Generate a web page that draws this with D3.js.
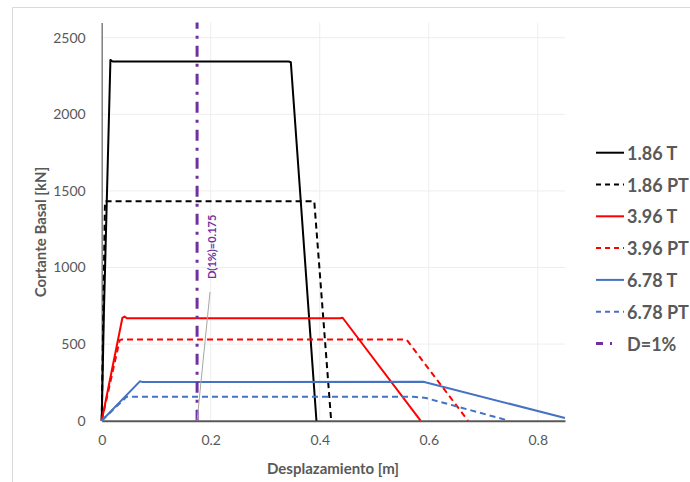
<!DOCTYPE html>
<html>
<head>
<meta charset="utf-8">
<script src="https://cdn.jsdelivr.net/npm/d3@7"></script>
<style>
  html, body { margin: 0; padding: 0; background: #fff; }
  svg { display: block; }
  text { font-family: Lato, "Open Sans", sans-serif; }
</style>
</head>
<body>
<svg id="chart" width="690" height="482"></svg>
<script>
// Pushover curves: displacement [m] vs base shear [kN]
const disp_186T   = [0, 0.004, 0.016, 0.020, 0.343, 0.347, 0.394];
const shear_186T  = [0, 700, 2355, 2345, 2345, 2340, 0];
const disp_186PT  = [0, 0.006, 0.390, 0.421];
const shear_186PT = [0, 1432, 1432, 0];
const disp_396T   = [0, 0.038, 0.042, 0.046, 0.437, 0.442, 0.585];
const shear_396T  = [0, 672, 680, 669, 669, 672, 0];
const disp_396PT  = [0, 0.033, 0.037, 0.555, 0.560, 0.672];
const shear_396PT = [0, 526, 530, 530, 526, 0];
const disp_678T   = [0, 0.070, 0.075, 0.590, 0.850];
const shear_678T  = [0, 257, 252, 254, 18];
const disp_678PT  = [0, 0.046, 0.572, 0.595, 0.747];
const shear_678PT = [0, 157, 157, 148, 0];
const drift1Disp  = 0.175;   // D = 1%
const drift1Label = "D(1%)=0.175";

const seriesNames  = ["1.86 T", "1.86 PT", "3.96 T", "3.96 PT", "6.78 T", "6.78 PT"];
const seriesColors = ["#000000", "#000000", "#ff0000", "#ff0000", "#4472c4", "#4472c4"];
const seriesDashed = [false, true, false, true, false, true];
const seriesX = [disp_186T, disp_186PT, disp_396T, disp_396PT, disp_678T, disp_678PT];
const seriesY = [shear_186T, shear_186PT, shear_396T, shear_396PT, shear_678T, shear_678PT];

const xTicks = [0, 0.2, 0.4, 0.6, 0.8];
const yTicks = [0, 500, 1000, 1500, 2000, 2500];
const xMax = 0.85, yMax = 2600;

const svg = d3.select("#chart");
const plot = { left: 101.7, right: 565, top: 22.4, bottom: 420.7 };

const x = d3.scaleLinear().domain([0, xMax]).range([plot.left, plot.right]);
const y = d3.scaleLinear().domain([0, yMax]).range([plot.bottom, plot.top]);

// chart area frame
svg.append("path")
  .attr("d", `M12.5,482 V7.5 H690`)
  .attr("fill", "none").attr("stroke", "#d9d9d9").attr("stroke-width", 1);

// gridlines
const grid = svg.append("g");
grid.selectAll(".hg").data(yTicks.filter(d => d > 0)).join("line")
  .attr("x1", plot.left).attr("x2", plot.right)
  .attr("y1", d => y(d)).attr("y2", d => y(d))
  .attr("stroke", "#eeeeee").attr("stroke-width", 1);
grid.selectAll(".vg").data(xTicks.filter(d => d > 0)).join("line")
  .attr("y1", plot.top).attr("y2", plot.bottom)
  .attr("x1", d => x(d)).attr("x2", d => x(d))
  .attr("stroke", "#eeeeee").attr("stroke-width", 1);

// axes
const xAxis = d3.axisBottom(x).tickValues(xTicks).tickSize(0).tickPadding(14)
  .tickFormat(d => d === 0 ? "0" : d3.format(".1f")(d));
const gx = svg.append("g").attr("transform", `translate(0,${plot.bottom})`).call(xAxis);
gx.select(".domain").attr("stroke", "#595959").attr("stroke-width", 2);
gx.selectAll("text").attr("fill", "#595959").attr("font-size", 14);

const yAxis = d3.axisLeft(y).tickValues(yTicks).tickSize(0).tickPadding(16)
  .tickFormat(d3.format("d"));
const gy = svg.append("g").attr("transform", `translate(${plot.left},0)`).call(yAxis);
gy.select(".domain").attr("stroke", "#7f7f7f").attr("stroke-width", 1.5);
gy.selectAll("text").attr("fill", "#595959").attr("font-size", 14);

// axis titles
svg.append("text")
  .attr("x", 333).attr("y", 468).attr("text-anchor", "middle").attr("dominant-baseline", "central")
  .attr("font-weight", "bold").attr("font-size", 15).attr("fill", "#595959")
  .text("Desplazamiento [m]");
svg.append("text")
  .attr("transform", "translate(39.5,232) rotate(-90)")
  .attr("text-anchor", "middle").attr("dominant-baseline", "central")
  .attr("font-weight", "bold").attr("font-size", 15).attr("fill", "#595959")
  .text("Cortante Basal [kN]");

// series
const line = d3.line().x(d => x(d[0])).y(d => y(d[1]));
const curves = svg.append("g");
seriesNames.forEach((name, i) => {
  const pts = seriesX[i].map((v, j) => [v, seriesY[i][j]]);
  curves.append("path")
    .datum(pts)
    .attr("d", line)
    .attr("fill", "none")
    .attr("stroke", seriesColors[i])
    .attr("stroke-width", 2)
    .attr("stroke-linejoin", "round")
    .attr("stroke-dasharray", seriesDashed[i] ? "6,4" : null);
});

// D = 1% drift marker
svg.append("line")
  .attr("x1", x(drift1Disp)).attr("x2", x(drift1Disp))
  .attr("y1", y(0)).attr("y2", y(yMax))
  .attr("stroke", "#7030a0").attr("stroke-width", 3)
  .attr("stroke-dasharray", "11,7,3,7");

// label with leader line
svg.append("line")
  .attr("x1", x(drift1Disp)).attr("y1", y(0))
  .attr("x2", 210).attr("y2", 292)
  .attr("stroke", "#a6a6a6").attr("stroke-width", 1);
svg.append("text")
  .attr("transform", "translate(211,279) rotate(-90)")
  .attr("text-anchor", "start").attr("dominant-baseline", "central")
  .attr("font-weight", "bold").attr("font-size", 11).attr("fill", "#7030a0")
  .text(drift1Label);

// legend
const legendNames  = seriesNames.concat(["D=1%"]);
const legendColors = seriesColors.concat(["#7030a0"]);
const lg = svg.append("g");
legendNames.forEach((name, i) => {
  const cy = 152.7 + i * 31.8;
  if (i < 6) {
    lg.append("line")
      .attr("x1", 596).attr("x2", 624).attr("y1", cy).attr("y2", cy)
      .attr("stroke", legendColors[i]).attr("stroke-width", 2)
      .attr("stroke-dasharray", seriesDashed[i] ? "5,4" : null);
  } else {
    lg.append("line")
      .attr("x1", 596).attr("x2", 624).attr("y1", cy).attr("y2", cy)
      .attr("stroke", legendColors[i]).attr("stroke-width", 3)
      .attr("stroke-dasharray", "7,7,2,20");
  }
  lg.append("text")
    .attr("x", 627).attr("y", cy).attr("dominant-baseline", "central")
    .attr("font-weight", "bold").attr("font-size", 18).attr("fill", "#595959")
    .text(name);
});
</script>
</body>
</html>
